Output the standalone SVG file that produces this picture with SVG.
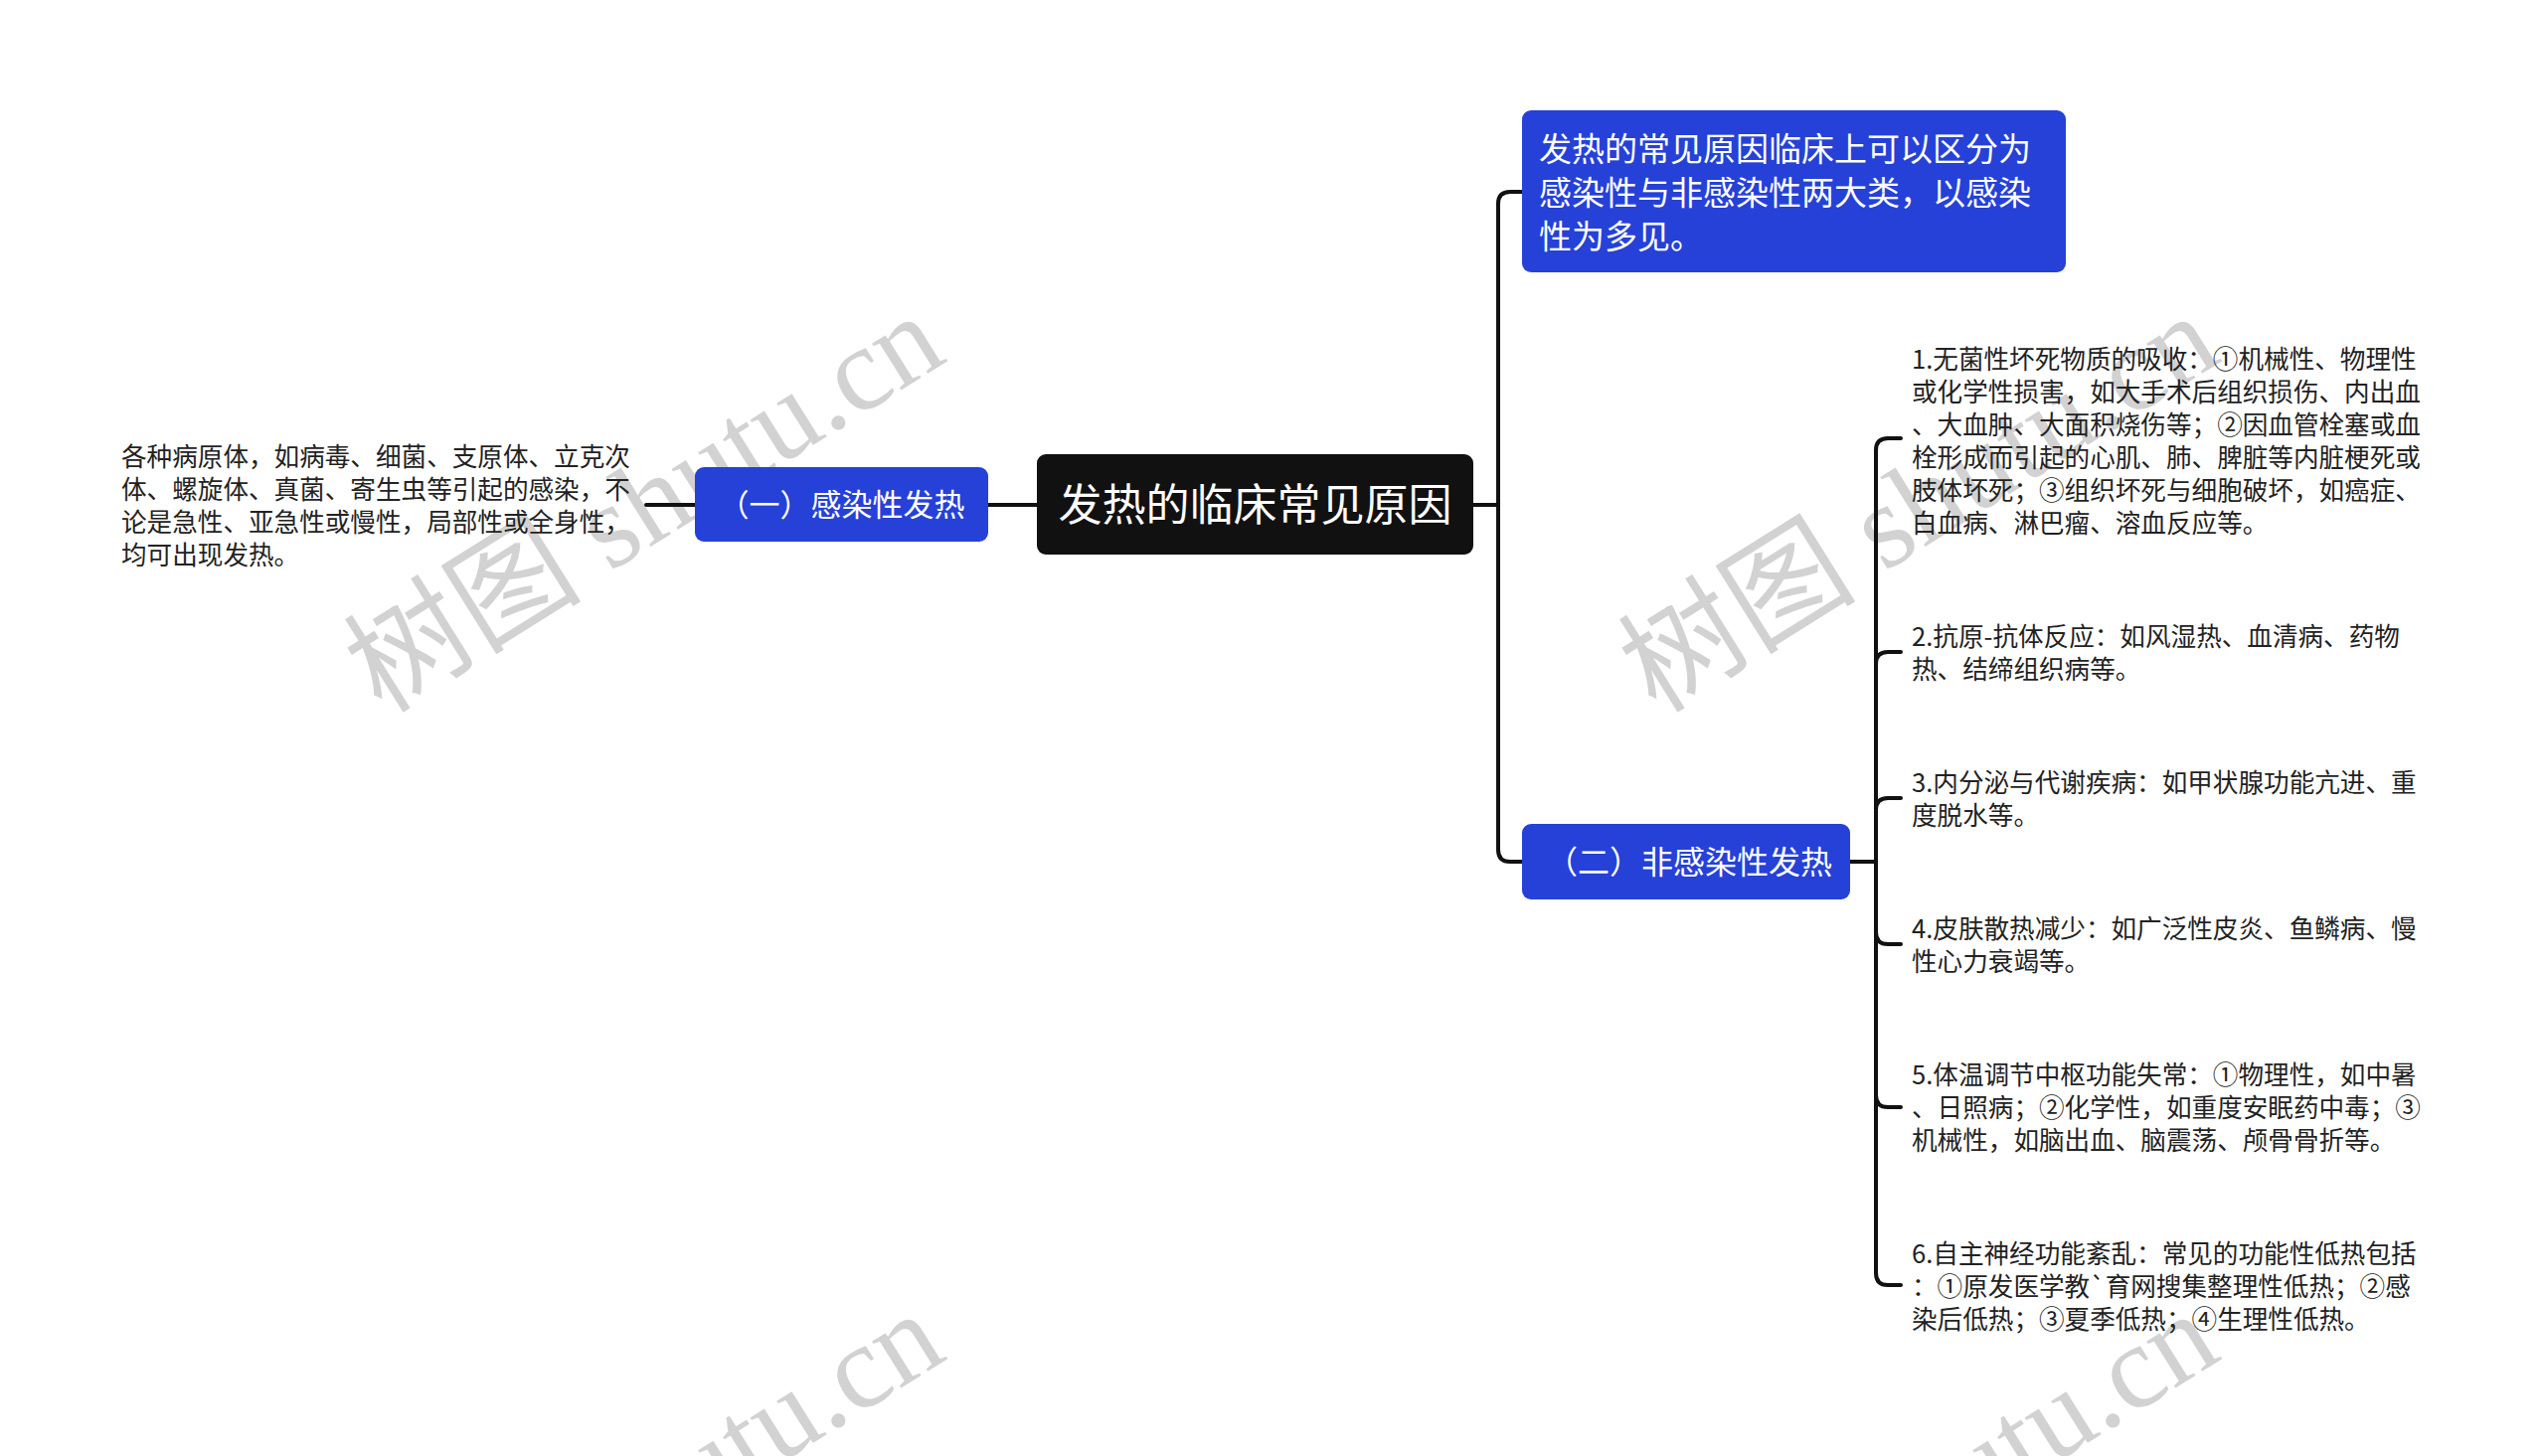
<svg xmlns="http://www.w3.org/2000/svg" width="2560" height="1465" viewBox="0 0 2560 1465">
<style>
.wm{font-family:"Liberation Serif","Noto Sans CJK SC",serif;font-size:120px;fill:#d2d2d2}
.t{font-family:"Noto Sans CJK SC","Noto Sans",sans-serif;font-size:25.6px;fill:#222}
.w{font-family:"Noto Sans CJK SC","Noto Sans",sans-serif;fill:#fff}
.blue{fill:#2541d8}
.con{fill:none;stroke:#111;stroke-width:4;stroke-linecap:round;stroke-linejoin:round}
</style>
<rect width="2560" height="1465" fill="#fff"/>
<g id="watermarks">
<text class="wm" transform="translate(384,719) rotate(-32)">树图 shutu.cn</text>
<text class="wm" transform="translate(1666,719) rotate(-32)">树图 shutu.cn</text>
<text class="wm" transform="translate(384,1723) rotate(-32)">树图 shutu.cn</text>
<text class="wm" transform="translate(1666,1723) rotate(-32)">树图 shutu.cn</text>
</g>
<g id="connectors">
<path class="con" d="M650,508 H699"/>
<path class="con" d="M994,508 H1043"/>
<path class="con" d="M1482,508 H1507 V205 Q1507,193 1519,193 H1531"/>
<path class="con" d="M1482,508 H1507 V855 Q1507,867 1519,867 H1531"/>
<path class="con" d="M1861,867 H1887 V453 Q1887,441 1899,441 H1912"/>
<path class="con" d="M1861,867 H1887 V668 Q1887,656 1899,656 H1912"/>
<path class="con" d="M1861,867 H1887 V815 Q1887,803 1899,803 H1912"/>
<path class="con" d="M1861,867 H1887 V938 Q1887,950 1899,950 H1912"/>
<path class="con" d="M1861,867 H1887 V1102 Q1887,1114 1899,1114 H1912"/>
<path class="con" d="M1861,867 H1887 V1281 Q1887,1293 1899,1293 H1912"/>
</g>
<g id="root">
<rect x="1043" y="457" width="439" height="101" rx="9" fill="#111"/>
<text class="w" x="1262.5" y="524" font-size="44" text-anchor="middle">发热的临床常见原因</text>
</g>
<g id="node-infectious">
<rect class="blue" x="699" y="470" width="295" height="75" rx="9"/>
<text class="w" x="846.5" y="519" font-size="31" text-anchor="middle">（一）感染性发热</text>
</g>
<g id="leaf-infectious">
<text class="t" x="122" y="469">各种病原体，如病毒、细菌、支原体、立克次</text>
<text class="t" x="122" y="502">体、螺旋体、真菌、寄生虫等引起的感染，不</text>
<text class="t" x="122" y="535">论是急性、亚急性或慢性，局部性或全身性，</text>
<text class="t" x="122" y="568">均可出现发热。</text>
</g>
<g id="node-summary">
<rect class="blue" x="1531" y="111" width="547" height="163" rx="9"/>
<text class="w" x="1548" y="162" font-size="33">发热的常见原因临床上可以区分为</text>
<text class="w" x="1548" y="206" font-size="33">感染性与非感染性两大类，以感染</text>
<text class="w" x="1548" y="250" font-size="33">性为多见。</text>
</g>
<g id="node-noninfectious">
<rect class="blue" x="1531" y="829" width="330" height="76" rx="9"/>
<text class="w" x="1699" y="879" font-size="32" text-anchor="middle">（二）非感染性发热</text>
</g>
<g id="leaf-1">
<text class="t" x="1923" y="371">1.无菌性坏死物质的吸收：①机械性、物理性</text>
<text class="t" x="1923" y="404">或化学性损害，如大手术后组织损伤、内出血</text>
<text class="t" x="1923" y="437">、大血肿、大面积烧伤等；②因血管栓塞或血</text>
<text class="t" x="1923" y="470">栓形成而引起的心肌、肺、脾脏等内脏梗死或</text>
<text class="t" x="1923" y="503">肢体坏死；③组织坏死与细胞破坏，如癌症、</text>
<text class="t" x="1923" y="536">白血病、淋巴瘤、溶血反应等。</text>
</g>
<g id="leaf-2">
<text class="t" x="1923" y="650">2.抗原-抗体反应：如风湿热、血清病、药物</text>
<text class="t" x="1923" y="683">热、结缔组织病等。</text>
</g>
<g id="leaf-3">
<text class="t" x="1923" y="797">3.内分泌与代谢疾病：如甲状腺功能亢进、重</text>
<text class="t" x="1923" y="830">度脱水等。</text>
</g>
<g id="leaf-4">
<text class="t" x="1923" y="944">4.皮肤散热减少：如广泛性皮炎、鱼鳞病、慢</text>
<text class="t" x="1923" y="977">性心力衰竭等。</text>
</g>
<g id="leaf-5">
<text class="t" x="1923" y="1091">5.体温调节中枢功能失常：①物理性，如中暑</text>
<text class="t" x="1923" y="1124">、日照病；②化学性，如重度安眠药中毒；③</text>
<text class="t" x="1923" y="1157">机械性，如脑出血、脑震荡、颅骨骨折等。</text>
</g>
<g id="leaf-6">
<text class="t" x="1923" y="1271">6.自主神经功能紊乱：常见的功能性低热包括</text>
<text class="t" x="1923" y="1304">：①原发医学教`育网搜集整理性低热；②感</text>
<text class="t" x="1923" y="1337">染后低热；③夏季低热；④生理性低热。</text>
</g>
</svg>
